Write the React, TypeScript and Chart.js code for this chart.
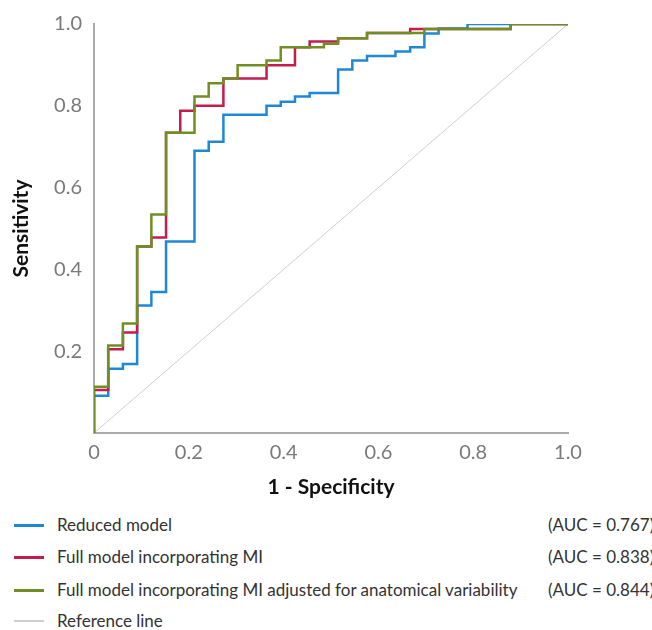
import { useEffect, useRef } from 'react';
import { Chart, registerables } from 'chart.js';

Chart.register(...registerables);

// ROC corner points (1 - specificity, sensitivity)
const reducedFpr = [0, 0, 0.030, 0.030, 0.061, 0.061, 0.091, 0.091, 0.121, 0.121, 0.152, 0.152, 0.212, 0.212, 0.242, 0.242, 0.273, 0.273, 0.364, 0.364, 0.394, 0.394, 0.424, 0.424, 0.455, 0.455, 0.515, 0.515, 0.545, 0.545, 0.576, 0.576, 0.636, 0.636, 0.667, 0.667, 0.697, 0.697, 0.727, 0.727, 0.788, 0.788, 1];
const reducedTpr = [0, 0.091, 0.091, 0.157, 0.157, 0.169, 0.169, 0.312, 0.312, 0.345, 0.345, 0.468, 0.468, 0.690, 0.690, 0.712, 0.712, 0.778, 0.778, 0.800, 0.800, 0.810, 0.810, 0.823, 0.823, 0.831, 0.831, 0.889, 0.889, 0.911, 0.911, 0.922, 0.922, 0.933, 0.933, 0.943, 0.943, 0.977, 0.977, 0.989, 0.989, 1, 1];

const fullFpr = [0, 0, 0.030, 0.030, 0.061, 0.061, 0.091, 0.091, 0.121, 0.121, 0.152, 0.152, 0.182, 0.182, 0.212, 0.212, 0.273, 0.273, 0.364, 0.364, 0.424, 0.424, 0.455, 0.455, 0.515, 0.515, 0.576, 0.576, 0.667, 0.667, 0.879, 0.879, 1];
const fullTpr = [0, 0.105, 0.105, 0.205, 0.205, 0.246, 0.246, 0.456, 0.456, 0.478, 0.478, 0.734, 0.734, 0.788, 0.788, 0.800, 0.800, 0.867, 0.867, 0.899, 0.899, 0.943, 0.943, 0.957, 0.957, 0.965, 0.965, 0.978, 0.978, 0.988, 0.988, 1, 1];

const adjFpr = [0, 0, 0.030, 0.030, 0.061, 0.061, 0.091, 0.091, 0.121, 0.121, 0.152, 0.152, 0.212, 0.212, 0.242, 0.242, 0.273, 0.273, 0.303, 0.303, 0.364, 0.364, 0.394, 0.394, 0.485, 0.485, 0.515, 0.515, 0.576, 0.576, 0.697, 0.697, 0.879, 0.879, 1];
const adjTpr = [0, 0.113, 0.113, 0.214, 0.214, 0.268, 0.268, 0.456, 0.456, 0.534, 0.534, 0.734, 0.734, 0.823, 0.823, 0.855, 0.855, 0.867, 0.867, 0.899, 0.899, 0.911, 0.911, 0.943, 0.943, 0.952, 0.952, 0.965, 0.965, 0.978, 0.978, 0.988, 0.988, 1, 1];

const refFpr = [0, 1];
const refTpr = [0, 1];

const seriesLabels = [
  'Reduced model',
  'Full model incorporating MI',
  'Full model incorporating MI adjusted for anatomical variability',
  'Reference line',
];
const aucLabels = ['(AUC = 0.767)', '(AUC = 0.838)', '(AUC = 0.844)', ''];
const seriesColors = ['#1f88d6', '#c41c4c', '#6f8f24', '#cfcfcf'];

const FONT = 'Lato, "Open Sans", "DejaVu Sans", sans-serif';

const toPts = (xs: number[], ys: number[]) => xs.map((x, i) => ({ x, y: ys[i] }));

export default function App() {
  const ref = useRef<HTMLCanvasElement>(null);

  useEffect(() => {
    if (!ref.current) return;
    const fmt = (v: number, zeroText: string) => {
      if (Math.abs(v) < 1e-9) return zeroText;
      return Number(v).toFixed(1);
    };
    const chart = new Chart(ref.current, {
      type: 'scatter',
      data: {
        datasets: [
          { label: seriesLabels[3], data: toPts(refFpr, refTpr), borderColor: seriesColors[3], borderWidth: 1, showLine: true, pointRadius: 0, order: 3 },
          { label: seriesLabels[0], data: toPts(reducedFpr, reducedTpr), borderColor: seriesColors[0], borderWidth: 2.5, showLine: true, pointRadius: 0, order: 2 },
          { label: seriesLabels[1], data: toPts(fullFpr, fullTpr), borderColor: seriesColors[1], borderWidth: 2.5, showLine: true, pointRadius: 0, order: 1 },
          { label: seriesLabels[2], data: toPts(adjFpr, adjTpr), borderColor: seriesColors[2], borderWidth: 2.5, showLine: true, pointRadius: 0, order: 0 },
        ],
      },
      options: {
        responsive: false,
        animation: false,
        layout: { padding: { left: 0, right: 84, top: 17, bottom: 0 } },
        plugins: { legend: { display: false }, tooltip: { enabled: false } },
        scales: {
          x: {
            type: 'linear',
            min: 0,
            max: 1,
            afterFit: (s: any) => { s.height = 72; },
            grid: { display: false, drawTicks: false },
            border: { display: true, color: '#ababab', width: 2 },
            ticks: {
              stepSize: 0.2,
              padding: 8,
              color: '#7a7a7a',
              font: { family: FONT, size: 20 },
              callback: (v: any) => fmt(Number(v), '0'),
            },
            title: {
              display: true,
              text: '1 - Specificity',
              color: '#111',
              font: { family: FONT, size: 21, weight: 'bold' },
              padding: { top: 0, bottom: 5 },
            },
          },
          y: {
            type: 'linear',
            min: 0,
            max: 1,
            afterFit: (s: any) => { s.width = 94; },
            grid: { display: false, drawTicks: false },
            border: { display: true, color: '#ababab', width: 2 },
            ticks: {
              stepSize: 0.2,
              padding: 12,
              color: '#7a7a7a',
              font: { family: FONT, size: 20 },
              callback: (v: any) => fmt(Number(v), ''),
            },
            title: {
              display: true,
              text: 'Sensitivity',
              color: '#111',
              font: { family: FONT, size: 21, weight: 'bold' },
              padding: { top: 9, bottom: 0 },
            },
          },
        },
      },
    });
    return () => chart.destroy();
  }, []);

  const rowCenters = [525, 557, 590, 621];

  return (
    <div style={{ position: 'absolute', left: 0, top: 0, width: 652, height: 630, background: '#fff', overflow: 'hidden' }}>
      <canvas ref={ref} width={652} height={505} style={{ position: 'absolute', left: 0, top: 0, width: 652, height: 505 }} />
      {seriesLabels.map((lab, i) => (
        <div key={lab}>
          <div style={{ position: 'absolute', left: 14, top: rowCenters[i] - 1.5, width: 30, height: i === 3 ? 2 : 3, background: seriesColors[i] }} />
          <div style={{ position: 'absolute', left: 57, top: rowCenters[i] - 12, height: 24, lineHeight: '24px', fontFamily: FONT, fontSize: 17, color: '#333', whiteSpace: 'nowrap' }}>{lab}</div>
          {aucLabels[i] && (
            <div style={{ position: 'absolute', left: 548, top: rowCenters[i] - 12, height: 24, lineHeight: '24px', fontFamily: FONT, fontSize: 17, color: '#333', whiteSpace: 'nowrap' }}>{aucLabels[i]}</div>
          )}
        </div>
      ))}
    </div>
  );
}
